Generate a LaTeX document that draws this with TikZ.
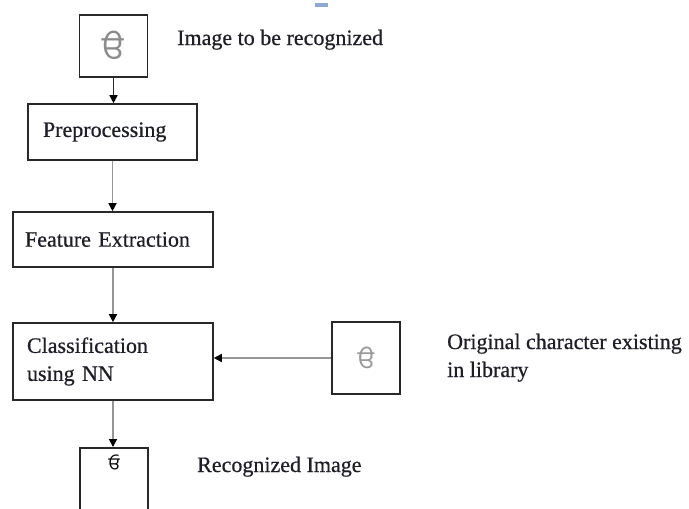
\documentclass[tikz,border=0pt]{standalone}
\usepackage{fontspec}
\setmainfont{Liberation Serif}[FakeBold=0.6]
\newfontfamily\labelfont{Liberation Serif}[FakeBold=0.6]
\newfontfamily\gurmukhi[Script=Gurmukhi]{Hind Jalandhar}
\usetikzlibrary{arrows.meta}
\definecolor{inkc}{RGB}{30,30,40}
\definecolor{edgec}{RGB}{40,40,40}
\definecolor{linkc}{RGB}{150,150,150}
\definecolor{markc}{RGB}{140,170,210}
\tikzset{
  lbl/.style={font=\labelfont\fontsize{22}{28}\selectfont, text=inkc, inner sep=0pt},
  stepbox/.style={draw=edgec, line width=1.6pt, fill=white, lbl, align=left,
    inner xsep=#1, inner ysep=0pt},
  stepbox/.default=14pt,
  imgbox/.style={draw=edgec, line width=1.6pt, fill=white, inner sep=0pt},
  conn/.style={draw=linkc, line width=1.5pt,
    -{Triangle[length=8pt,width=8pt,color=black]}},
}
\begin{document}
\begin{tikzpicture}[x=1pt,y=-1pt]
  \useasboundingbox (0,0) rectangle (689,509);
  \clip (0,0) rectangle (689,509);

  % small mark at the top edge
  \fill[markc] (315,3) rectangle (328,7);

  % input image
  \node[imgbox, minimum width=68pt, minimum height=62pt,
        font=\gurmukhi\fontsize{34}{34}\selectfont, text=black!45] (img) at (113.5,46) {ੳ};
  \node[lbl, anchor=base west] (imglbl) at (177,45) {Image to be recognized};

  % processing steps
  \node[stepbox=15pt, minimum width=169pt, minimum height=56pt, text width=139pt]
        (pre) at (112.5,132) {Preprocessing};
  \node[stepbox=12pt, minimum width=200pt, minimum height=55pt, text width=176pt]
        (feat) at (113,239.5) {Feature Extraction};
  \node[stepbox=14pt, minimum width=200pt, minimum height=77pt, text width=172pt]
        (cls) at (113,361.5) {Classification\\using NN};

  % library character
  \node[imgbox, minimum width=68pt, minimum height=72pt,
        font=\gurmukhi\fontsize{26}{26}\selectfont, text=black!40] (lib) at (366,358) {ੳ};
  \node[lbl, anchor=base west, align=left] (liblbl) at (447,377)
        {Original character existing\\in library};

  % recognized output
  \node[imgbox, minimum width=68pt, minimum height=80pt, anchor=north] (rec) at (114,447) {};
  \node[font=\gurmukhi\fontsize{18}{18}\selectfont, text=black, inner sep=0pt]
        (recg) at (114,463) {ਓ};
  \node[lbl, anchor=base west] (reclbl) at (197,472) {Recognized Image};

  % connectors
  \draw[conn, draw=edgec] (img.south) -- (img.south |- pre.north);
  \draw[conn] (pre.south) -- (pre.south |- feat.north);
  \draw[conn] (feat.south) -- (feat.south |- cls.north);
  \draw[conn] (lib.west) -- (lib.west -| cls.east);
  \draw[conn] (cls.south) -- (cls.south |- rec.north);
\end{tikzpicture}
\end{document}
